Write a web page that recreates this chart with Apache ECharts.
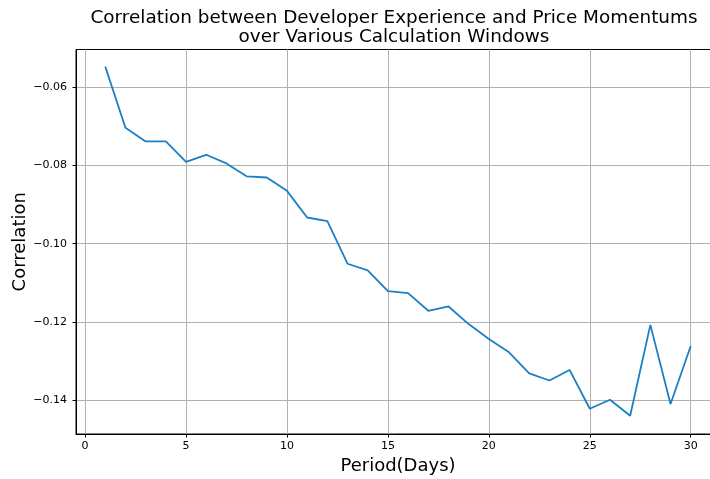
<!DOCTYPE html>
<html>
<head>
<meta charset="utf-8">
<script src="https://cdn.jsdelivr.net/npm/echarts@6/dist/echarts.min.js"></script>
<style>html,body{margin:0;padding:0;background:#fff;}#c{width:710px;height:479px;}</style>
</head>
<body>
<div id="c"></div>
<script>
const periods = [1,2,3,4,5,6,7,8,9,10,11,12,13,14,15,16,17,18,19,20,21,22,23,24,25,26,27,28,29,30];
const correlation = [-0.0548,-0.0704,-0.0739,-0.0739,-0.0791,-0.0773,-0.0795,-0.0828,-0.0831,-0.0865,
  -0.0933,-0.0942,-0.1051,-0.1068,-0.1121,-0.1126,-0.1171,-0.1160,-0.1205,-0.1243,
  -0.1277,-0.1331,-0.1349,-0.1322,-0.1421,-0.1398,-0.1439,-0.1207,-0.1409,-0.1261];
const xTicks = [0,5,10,15,20,25,30];
const yTicks = [-0.14,-0.12,-0.10,-0.08,-0.06];
const titleLines = ['Correlation between Developer Experience and Price Momentums','over Various Calculation Windows'];

const chart = echarts.init(document.getElementById('c'), null, {renderer:'canvas'});
const FONT = 'DejaVu Sans';
const fmtY = v => (v < 0 ? '\u2212' : '') + Math.abs(v).toFixed(2);
chart.setOption({
  animation:false,
  backgroundColor:'#fff',
  grid:{left:76, top:49.5, width:644, height:384.5, show:true, borderColor:'#000', borderWidth:1,
        backgroundColor:'transparent', containLabel:false, outerBoundsMode:'none'},
  graphic:[
    {type:'text', x:394, y:18.3, style:{text:titleLines[0], font:'18.4px "DejaVu Sans"', fill:'#000', align:'center', verticalAlign:'middle'}},
    {type:'text', x:394, y:37.6, style:{text:titleLines[1], font:'18.4px "DejaVu Sans"', fill:'#000', align:'center', verticalAlign:'middle'}}
  ],
  xAxis:{
    type:'value', min:-0.45, max:31.45,
    name:'Period(Days)', nameLocation:'middle', nameGap:23, nameMoveOverlap:false,
    nameTextStyle:{fontFamily:FONT, fontSize:18, color:'#000'},
    axisLine:{show:true, onZero:false, lineStyle:{color:'#000', width:1}},
    axisTick:{show:true, length:3.5, customValues:xTicks, lineStyle:{color:'#000', width:1}},
    axisLabel:{customValues:xTicks, fontFamily:FONT, fontSize:11, color:'#000', margin:7},
    splitLine:{show:true, lineStyle:{color:'#b0b0b0', width:1}}
  },
  yAxis:{
    type:'value', min:-0.14855, max:-0.05043,
    name:'Correlation', nameLocation:'middle', nameGap:47, nameMoveOverlap:false,
    nameTextStyle:{fontFamily:FONT, fontSize:18, color:'#000'},
    axisLine:{show:true, onZero:false, lineStyle:{color:'#000', width:1}},
    axisTick:{show:true, length:3.5, customValues:yTicks, lineStyle:{color:'#000', width:1}},
    axisLabel:{customValues:yTicks, fontFamily:FONT, fontSize:11, color:'#000', margin:9, formatter:fmtY},
    splitLine:{show:true, lineStyle:{color:'#b0b0b0', width:1}}
  },
  series:[{
    type:'line', data:periods.map((p,i)=>[p, correlation[i]]),
    showSymbol:false, symbol:'none',
    lineStyle:{color:'#1a80c6', width:1.8},
    itemStyle:{color:'#1a80c6'}
  }]
});
</script>
</body>
</html>
